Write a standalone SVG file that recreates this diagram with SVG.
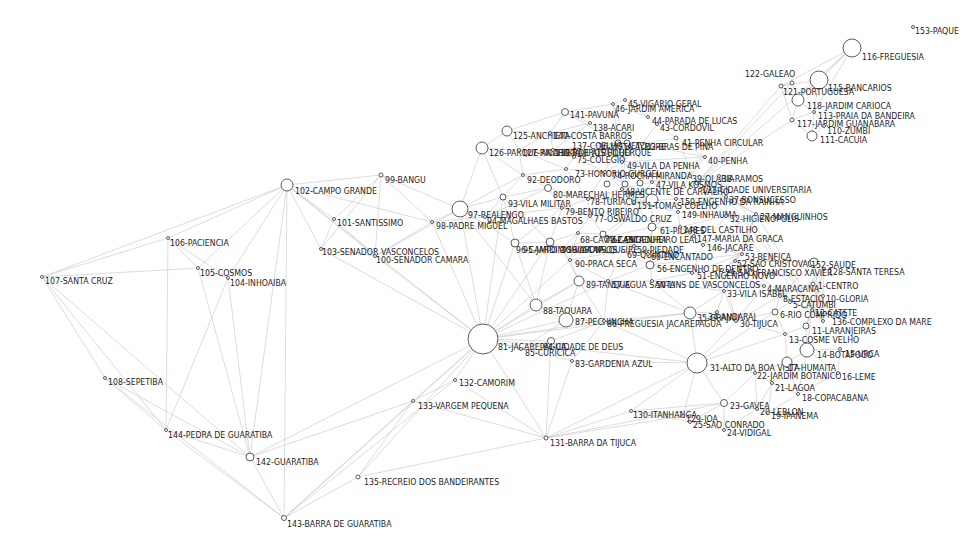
<svg xmlns="http://www.w3.org/2000/svg" width="963" height="544" viewBox="0 0 963 544">
<style>
.e line{stroke:#c4c4c4;stroke-width:0.6}
.n circle{fill:#fff;stroke:#333;stroke-width:0.8}
.n text{font-family:"DejaVu Sans","Liberation Sans",sans-serif;font-stretch:condensed;font-size:8.7px;fill:#1e1e1e}
</style>
<rect width="963" height="544" fill="#fff"/>
<g id="connectors" class="e">
<line x1="42" y1="277" x2="287" y2="185"/><line x1="42" y1="277" x2="168" y2="238"/><line x1="42" y1="277" x2="105" y2="378"/><line x1="42" y1="277" x2="166" y2="430"/><line x1="42" y1="277" x2="250" y2="457"/><line x1="42" y1="277" x2="198" y2="268"/>
<line x1="168" y1="238" x2="287" y2="185"/><line x1="168" y1="238" x2="198" y2="268"/><line x1="168" y1="238" x2="228" y2="278"/><line x1="168" y1="238" x2="166" y2="430"/>
<line x1="198" y1="268" x2="287" y2="185"/><line x1="198" y1="268" x2="228" y2="278"/><line x1="198" y1="268" x2="250" y2="457"/>
<line x1="228" y1="278" x2="287" y2="185"/><line x1="228" y1="278" x2="250" y2="457"/><line x1="228" y1="278" x2="166" y2="430"/>
<line x1="105" y1="378" x2="166" y2="430"/><line x1="105" y1="378" x2="250" y2="457"/><line x1="105" y1="378" x2="284" y2="518"/>
<line x1="166" y1="430" x2="250" y2="457"/><line x1="166" y1="430" x2="284" y2="518"/><line x1="250" y1="457" x2="284" y2="518"/><line x1="250" y1="457" x2="287" y2="185"/><line x1="250" y1="457" x2="483" y2="339"/><line x1="250" y1="457" x2="413" y2="401"/>
<line x1="287" y1="185" x2="284" y2="518"/><line x1="284" y1="518" x2="358" y2="477"/><line x1="284" y1="518" x2="413" y2="401"/><line x1="284" y1="518" x2="455" y2="380"/><line x1="284" y1="518" x2="483" y2="339"/>
<line x1="358" y1="477" x2="546" y2="438"/><line x1="358" y1="477" x2="483" y2="339"/><line x1="358" y1="477" x2="413" y2="401"/>
<line x1="413" y1="401" x2="483" y2="339"/><line x1="413" y1="401" x2="546" y2="438"/><line x1="413" y1="401" x2="455" y2="380"/>
<line x1="455" y1="380" x2="483" y2="339"/><line x1="455" y1="380" x2="546" y2="438"/>
<line x1="546" y1="438" x2="631" y2="411"/><line x1="546" y1="438" x2="697" y2="363"/><line x1="546" y1="438" x2="572" y2="361"/><line x1="546" y1="438" x2="483" y2="339"/><line x1="546" y1="438" x2="683" y2="416"/><line x1="546" y1="438" x2="724" y2="403"/><line x1="546" y1="438" x2="551" y2="341"/>
<line x1="287" y1="185" x2="381" y2="175"/><line x1="287" y1="185" x2="334" y2="219"/><line x1="287" y1="185" x2="321" y2="249"/><line x1="287" y1="185" x2="375" y2="256"/><line x1="287" y1="185" x2="483" y2="339"/><line x1="287" y1="185" x2="432" y2="222"/>
<line x1="381" y1="175" x2="334" y2="219"/><line x1="381" y1="175" x2="321" y2="249"/><line x1="381" y1="175" x2="460" y2="209"/><line x1="381" y1="175" x2="432" y2="222"/><line x1="381" y1="175" x2="375" y2="256"/>
<line x1="334" y1="219" x2="321" y2="249"/><line x1="334" y1="219" x2="375" y2="256"/><line x1="321" y1="249" x2="375" y2="256"/><line x1="321" y1="249" x2="483" y2="339"/>
<line x1="375" y1="256" x2="483" y2="339"/><line x1="375" y1="256" x2="432" y2="222"/><line x1="375" y1="256" x2="460" y2="209"/>
<line x1="432" y1="222" x2="460" y2="209"/><line x1="432" y1="222" x2="485" y2="217"/><line x1="432" y1="222" x2="483" y2="339"/>
<line x1="460" y1="209" x2="503" y2="197"/><line x1="460" y1="209" x2="482" y2="148"/><line x1="460" y1="209" x2="523" y2="175"/><line x1="460" y1="209" x2="485" y2="217"/><line x1="460" y1="209" x2="483" y2="339"/><line x1="460" y1="209" x2="515" y2="243"/><line x1="460" y1="209" x2="536" y2="305"/>
<line x1="482" y1="148" x2="507" y2="131"/><line x1="482" y1="148" x2="519" y2="150"/><line x1="482" y1="148" x2="523" y2="175"/><line x1="482" y1="148" x2="503" y2="197"/>
<line x1="507" y1="131" x2="565" y2="112"/><line x1="507" y1="131" x2="519" y2="150"/><line x1="507" y1="131" x2="550" y2="133"/>
<line x1="565" y1="112" x2="613" y2="104"/><line x1="565" y1="112" x2="550" y2="133"/><line x1="565" y1="112" x2="590" y2="123"/><line x1="565" y1="112" x2="618" y2="143"/>
<line x1="613" y1="104" x2="625" y2="100"/><line x1="613" y1="104" x2="648" y2="117"/><line x1="613" y1="104" x2="618" y2="143"/><line x1="613" y1="104" x2="627" y2="143"/>
<line x1="625" y1="100" x2="648" y2="117"/><line x1="648" y1="117" x2="657" y2="124"/><line x1="657" y1="124" x2="676" y2="138"/><line x1="657" y1="124" x2="642" y2="144"/>
<line x1="676" y1="138" x2="705" y2="157"/><line x1="676" y1="138" x2="642" y2="144"/><line x1="676" y1="138" x2="697" y2="183"/>
<line x1="550" y1="133" x2="590" y2="123"/><line x1="550" y1="133" x2="553" y2="150"/><line x1="550" y1="133" x2="519" y2="150"/>
<line x1="590" y1="123" x2="618" y2="143"/><line x1="590" y1="123" x2="553" y2="150"/>
<line x1="553" y1="150" x2="519" y2="150"/><line x1="553" y1="150" x2="574" y2="157"/><line x1="553" y1="150" x2="618" y2="143"/>
<line x1="618" y1="143" x2="627" y2="143"/><line x1="618" y1="143" x2="574" y2="157"/><line x1="618" y1="143" x2="605" y2="172"/>
<line x1="519" y1="150" x2="523" y2="175"/><line x1="519" y1="150" x2="566" y2="169"/><line x1="519" y1="150" x2="574" y2="157"/>
<line x1="523" y1="175" x2="503" y2="197"/><line x1="523" y1="175" x2="548" y2="188"/><line x1="523" y1="175" x2="566" y2="169"/>
<line x1="503" y1="197" x2="485" y2="217"/><line x1="503" y1="197" x2="548" y2="188"/><line x1="503" y1="197" x2="515" y2="243"/><line x1="503" y1="197" x2="550" y2="242"/>
<line x1="548" y1="188" x2="562" y2="208"/><line x1="548" y1="188" x2="566" y2="169"/><line x1="548" y1="188" x2="588" y2="199"/><line x1="548" y1="188" x2="485" y2="217"/>
<line x1="566" y1="169" x2="605" y2="172"/><line x1="566" y1="169" x2="574" y2="157"/><line x1="566" y1="169" x2="588" y2="199"/>
<line x1="605" y1="172" x2="574" y2="157"/><line x1="605" y1="172" x2="622" y2="162"/><line x1="605" y1="172" x2="622" y2="189"/><line x1="605" y1="172" x2="588" y2="199"/><line x1="605" y1="172" x2="652" y2="200"/>
<line x1="627" y1="143" x2="622" y2="162"/><line x1="627" y1="143" x2="642" y2="144"/><line x1="627" y1="143" x2="622" y2="189"/>
<line x1="642" y1="144" x2="705" y2="157"/><line x1="642" y1="144" x2="622" y2="162"/>
<line x1="705" y1="157" x2="690" y2="176"/><line x1="705" y1="157" x2="622" y2="162"/><line x1="705" y1="157" x2="652" y2="182"/>
<line x1="690" y1="176" x2="719" y2="176"/><line x1="690" y1="176" x2="697" y2="183"/><line x1="690" y1="176" x2="676" y2="199"/><line x1="690" y1="176" x2="652" y2="182"/>
<line x1="719" y1="176" x2="726" y2="197"/><line x1="719" y1="176" x2="697" y2="183"/><line x1="719" y1="176" x2="823" y2="321"/>
<line x1="726" y1="197" x2="756" y2="214"/><line x1="726" y1="197" x2="676" y2="199"/><line x1="726" y1="197" x2="726" y2="216"/><line x1="726" y1="197" x2="697" y2="183"/><line x1="726" y1="197" x2="823" y2="321"/>
<line x1="622" y1="162" x2="652" y2="182"/><line x1="622" y1="162" x2="622" y2="189"/>
<line x1="652" y1="182" x2="622" y2="189"/><line x1="652" y1="182" x2="634" y2="202"/><line x1="652" y1="182" x2="676" y2="199"/>
<line x1="622" y1="189" x2="652" y2="200"/><line x1="622" y1="189" x2="634" y2="202"/><line x1="622" y1="189" x2="588" y2="199"/>
<line x1="634" y1="202" x2="678" y2="212"/><line x1="634" y1="202" x2="676" y2="199"/><line x1="634" y1="202" x2="652" y2="227"/><line x1="634" y1="202" x2="652" y2="200"/>
<line x1="676" y1="199" x2="678" y2="212"/><line x1="676" y1="199" x2="726" y2="216"/>
<line x1="678" y1="212" x2="680" y2="227"/><line x1="678" y1="212" x2="726" y2="216"/><line x1="678" y1="212" x2="652" y2="227"/>
<line x1="680" y1="227" x2="694" y2="236"/><line x1="680" y1="227" x2="726" y2="216"/><line x1="680" y1="227" x2="703" y2="245"/><line x1="680" y1="227" x2="652" y2="227"/>
<line x1="694" y1="236" x2="703" y2="245"/><line x1="694" y1="236" x2="650" y2="265"/><line x1="694" y1="236" x2="652" y2="227"/>
<line x1="703" y1="245" x2="726" y2="216"/><line x1="703" y1="245" x2="742" y2="254"/><line x1="703" y1="245" x2="692" y2="273"/><line x1="703" y1="245" x2="756" y2="214"/>
<line x1="756" y1="214" x2="742" y2="254"/><line x1="756" y1="214" x2="823" y2="321"/><line x1="756" y1="214" x2="735" y2="261"/><line x1="756" y1="214" x2="697" y2="183"/>
<line x1="588" y1="199" x2="562" y2="208"/><line x1="588" y1="199" x2="590" y2="216"/><line x1="588" y1="199" x2="652" y2="200"/>
<line x1="562" y1="208" x2="590" y2="216"/><line x1="562" y1="208" x2="485" y2="217"/><line x1="562" y1="208" x2="550" y2="242"/><line x1="562" y1="208" x2="515" y2="243"/>
<line x1="590" y1="216" x2="652" y2="200"/><line x1="590" y1="216" x2="603" y2="234"/><line x1="590" y1="216" x2="578" y2="233"/>
<line x1="652" y1="200" x2="603" y2="234"/><line x1="652" y1="200" x2="652" y2="227"/><line x1="652" y1="200" x2="607" y2="237"/>
<line x1="603" y1="234" x2="578" y2="233"/><line x1="603" y1="234" x2="607" y2="237"/><line x1="603" y1="234" x2="634" y2="246"/><line x1="603" y1="234" x2="562" y2="249"/>
<line x1="578" y1="233" x2="562" y2="249"/><line x1="578" y1="233" x2="550" y2="242"/><line x1="578" y1="233" x2="570" y2="260"/>
<line x1="652" y1="227" x2="607" y2="237"/><line x1="652" y1="227" x2="650" y2="265"/><line x1="652" y1="227" x2="648" y2="254"/>
<line x1="607" y1="237" x2="634" y2="246"/><line x1="607" y1="237" x2="648" y2="254"/>
<line x1="634" y1="246" x2="648" y2="254"/><line x1="634" y1="246" x2="623" y2="251"/><line x1="634" y1="246" x2="650" y2="265"/>
<line x1="648" y1="254" x2="650" y2="265"/><line x1="648" y1="254" x2="623" y2="251"/>
<line x1="623" y1="251" x2="570" y2="260"/><line x1="623" y1="251" x2="650" y2="265"/><line x1="623" y1="251" x2="608" y2="281"/>
<line x1="650" y1="265" x2="692" y2="273"/><line x1="650" y1="265" x2="652" y2="281"/><line x1="650" y1="265" x2="608" y2="281"/><line x1="650" y1="265" x2="742" y2="254"/>
<line x1="692" y1="273" x2="652" y2="281"/><line x1="692" y1="273" x2="742" y2="254"/><line x1="692" y1="273" x2="722" y2="270"/><line x1="692" y1="273" x2="724" y2="291"/>
<line x1="742" y1="254" x2="735" y2="261"/><line x1="742" y1="254" x2="722" y2="270"/>
<line x1="735" y1="261" x2="722" y2="270"/><line x1="735" y1="261" x2="823" y2="321"/><line x1="735" y1="261" x2="814" y2="262"/><line x1="735" y1="261" x2="764" y2="286"/>
<line x1="722" y1="270" x2="764" y2="286"/><line x1="722" y1="270" x2="724" y2="291"/><line x1="722" y1="270" x2="736" y2="321"/>
<line x1="814" y1="262" x2="813" y2="284"/><line x1="814" y1="262" x2="824" y2="269"/><line x1="814" y1="262" x2="823" y2="321"/><line x1="814" y1="262" x2="780" y2="296"/>
<line x1="813" y1="284" x2="824" y2="269"/><line x1="813" y1="284" x2="823" y2="296"/><line x1="813" y1="284" x2="780" y2="296"/><line x1="813" y1="284" x2="790" y2="302"/><line x1="813" y1="284" x2="823" y2="321"/>
<line x1="824" y1="269" x2="823" y2="296"/><line x1="824" y1="269" x2="790" y2="302"/><line x1="824" y1="269" x2="812" y2="310"/><line x1="824" y1="269" x2="806" y2="326"/>
<line x1="780" y1="296" x2="790" y2="302"/><line x1="780" y1="296" x2="764" y2="286"/><line x1="780" y1="296" x2="775" y2="312"/>
<line x1="790" y1="302" x2="775" y2="312"/><line x1="790" y1="302" x2="812" y2="310"/>
<line x1="823" y1="296" x2="812" y2="310"/><line x1="823" y1="296" x2="806" y2="326"/>
<line x1="812" y1="310" x2="806" y2="326"/><line x1="812" y1="310" x2="807" y2="350"/>
<line x1="806" y1="326" x2="785" y2="334"/><line x1="806" y1="326" x2="807" y2="350"/>
<line x1="785" y1="334" x2="807" y2="350"/><line x1="785" y1="334" x2="775" y2="312"/><line x1="785" y1="334" x2="787" y2="362"/><line x1="785" y1="334" x2="697" y2="363"/>
<line x1="807" y1="350" x2="840" y2="349"/><line x1="807" y1="350" x2="787" y2="362"/><line x1="807" y1="350" x2="838" y2="373"/><line x1="807" y1="350" x2="798" y2="394"/>
<line x1="840" y1="349" x2="838" y2="373"/><line x1="838" y1="373" x2="798" y2="394"/>
<line x1="787" y1="362" x2="755" y2="373"/><line x1="787" y1="362" x2="772" y2="383"/><line x1="787" y1="362" x2="798" y2="394"/>
<line x1="755" y1="373" x2="772" y2="383"/><line x1="755" y1="373" x2="724" y2="403"/><line x1="755" y1="373" x2="697" y2="363"/><line x1="755" y1="373" x2="757" y2="409"/>
<line x1="772" y1="383" x2="798" y2="394"/><line x1="772" y1="383" x2="768" y2="413"/><line x1="772" y1="383" x2="757" y2="409"/>
<line x1="798" y1="394" x2="768" y2="413"/><line x1="768" y1="413" x2="757" y2="409"/>
<line x1="757" y1="409" x2="724" y2="403"/><line x1="757" y1="409" x2="724" y2="430"/>
<line x1="724" y1="403" x2="724" y2="430"/><line x1="724" y1="403" x2="690" y2="422"/><line x1="724" y1="403" x2="697" y2="363"/><line x1="724" y1="403" x2="631" y2="411"/>
<line x1="724" y1="430" x2="690" y2="422"/><line x1="690" y1="422" x2="683" y2="416"/><line x1="690" y1="422" x2="631" y2="411"/>
<line x1="683" y1="416" x2="631" y2="411"/><line x1="683" y1="416" x2="697" y2="363"/><line x1="631" y1="411" x2="697" y2="363"/>
<line x1="697" y1="363" x2="690" y2="313"/><line x1="697" y1="363" x2="736" y2="321"/><line x1="697" y1="363" x2="572" y2="361"/><line x1="697" y1="363" x2="483" y2="339"/><line x1="697" y1="363" x2="775" y2="312"/><line x1="697" y1="363" x2="604" y2="321"/>
<line x1="736" y1="321" x2="724" y2="291"/><line x1="736" y1="321" x2="775" y2="312"/><line x1="736" y1="321" x2="690" y2="313"/><line x1="736" y1="321" x2="717" y2="312"/><line x1="736" y1="321" x2="764" y2="286"/><line x1="736" y1="321" x2="780" y2="296"/><line x1="736" y1="321" x2="785" y2="334"/>
<line x1="717" y1="312" x2="690" y2="313"/><line x1="717" y1="312" x2="724" y2="291"/>
<line x1="724" y1="291" x2="764" y2="286"/><line x1="724" y1="291" x2="652" y2="281"/><line x1="724" y1="291" x2="690" y2="313"/>
<line x1="652" y1="281" x2="608" y2="281"/><line x1="652" y1="281" x2="690" y2="313"/>
<line x1="608" y1="281" x2="579" y2="281"/><line x1="608" y1="281" x2="570" y2="260"/><line x1="608" y1="281" x2="604" y2="321"/><line x1="608" y1="281" x2="690" y2="313"/>
<line x1="570" y1="260" x2="579" y2="281"/><line x1="570" y1="260" x2="562" y2="249"/>
<line x1="562" y1="249" x2="550" y2="242"/><line x1="562" y1="249" x2="579" y2="281"/>
<line x1="550" y1="242" x2="515" y2="243"/><line x1="550" y1="242" x2="536" y2="305"/>
<line x1="515" y1="243" x2="536" y2="305"/><line x1="515" y1="243" x2="483" y2="339"/>
<line x1="579" y1="281" x2="536" y2="305"/><line x1="579" y1="281" x2="566" y2="320"/><line x1="579" y1="281" x2="604" y2="321"/><line x1="579" y1="281" x2="483" y2="339"/>
<line x1="536" y1="305" x2="566" y2="320"/><line x1="536" y1="305" x2="483" y2="339"/>
<line x1="566" y1="320" x2="604" y2="321"/><line x1="566" y1="320" x2="483" y2="339"/><line x1="566" y1="320" x2="521" y2="349"/>
<line x1="604" y1="321" x2="483" y2="339"/><line x1="604" y1="321" x2="690" y2="313"/><line x1="604" y1="321" x2="572" y2="361"/><line x1="604" y1="321" x2="551" y2="341"/>
<line x1="521" y1="349" x2="483" y2="339"/><line x1="521" y1="349" x2="551" y2="341"/>
<line x1="551" y1="341" x2="483" y2="339"/><line x1="551" y1="341" x2="572" y2="361"/><line x1="572" y1="361" x2="483" y2="339"/>
<line x1="483" y1="339" x2="690" y2="313"/><line x1="483" y1="339" x2="608" y2="281"/><line x1="483" y1="339" x2="570" y2="260"/><line x1="483" y1="339" x2="503" y2="197"/><line x1="483" y1="339" x2="550" y2="242"/>
<line x1="852" y1="48" x2="819" y2="80"/><line x1="852" y1="48" x2="798" y2="100"/><line x1="852" y1="48" x2="814" y2="112"/><line x1="852" y1="48" x2="697" y2="183"/><line x1="852" y1="48" x2="781" y2="86"/>
<line x1="819" y1="80" x2="781" y2="86"/><line x1="819" y1="80" x2="798" y2="100"/><line x1="819" y1="80" x2="814" y2="112"/>
<line x1="781" y1="86" x2="792" y2="83"/><line x1="781" y1="86" x2="798" y2="100"/><line x1="781" y1="86" x2="792" y2="120"/><line x1="781" y1="86" x2="697" y2="183"/>
<line x1="792" y1="83" x2="798" y2="100"/><line x1="792" y1="83" x2="697" y2="183"/>
<line x1="798" y1="100" x2="792" y2="120"/><line x1="798" y1="100" x2="814" y2="112"/>
<line x1="792" y1="120" x2="814" y2="112"/><line x1="792" y1="120" x2="812" y2="136"/><line x1="792" y1="120" x2="697" y2="183"/>
<line x1="814" y1="112" x2="824" y2="126"/><line x1="824" y1="126" x2="812" y2="136"/><line x1="812" y1="136" x2="814" y2="112"/>
<line x1="697" y1="183" x2="823" y2="321"/>
</g>
<g id="nodes" class="n">
<g id="n153"><circle cx="913" cy="27" r="1.5"/><text x="915" y="34">153-PAQUE</text></g>
<g id="n116"><circle cx="852" cy="48" r="9"/><text x="862" y="60">116-FREGUESIA</text></g>
<g id="n115"><circle cx="819" cy="80" r="9"/><text x="828" y="91">115-BANCARIOS</text></g>
<g id="n122"><circle cx="792" cy="83" r="2"/><text x="745" y="77">122-GALEAO</text></g>
<g id="n121"><circle cx="781" cy="86" r="2"/><text x="783" y="95">121-PORTUGUESA</text></g>
<g id="n118"><circle cx="798" cy="100" r="6"/><text x="807" y="109">118-JARDIM CARIOCA</text></g>
<g id="n113"><circle cx="814" cy="112" r="1.5"/><text x="818" y="119">113-PRAIA DA BANDEIRA</text></g>
<g id="n117"><circle cx="792" cy="120" r="2"/><text x="797" y="127">117-JARDIM GUANABARA</text></g>
<g id="n110"><circle cx="824" cy="126" r="1.5"/><text x="827" y="134">110-ZUMBI</text></g>
<g id="n111"><circle cx="812" cy="136" r="5"/><text x="820" y="143">111-CACUIA</text></g>
<g id="n123"><circle cx="697" cy="183" r="2"/><text x="702" y="193">123-CIDADE UNIVERSITARIA</text></g>
<g id="n141"><circle cx="565" cy="112" r="3.5"/><text x="570" y="118">141-PAVUNA</text></g>
<g id="n45"><circle cx="625" cy="100" r="1.5"/><text x="628" y="107">45-VIGARIO GERAL</text></g>
<g id="n46"><circle cx="613" cy="104" r="1.5"/><text x="615" y="112">46-JARDIM AMERICA</text></g>
<g id="n44"><circle cx="648" cy="117" r="1.5"/><text x="652" y="124">44-PARADA DE LUCAS</text></g>
<g id="n43"><circle cx="657" cy="124" r="1.5"/><text x="660" y="131">43-CORDOVIL</text></g>
<g id="n41"><circle cx="676" cy="138" r="2"/><text x="682" y="146">41-PENHA CIRCULAR</text></g>
<g id="n125"><circle cx="507" cy="131" r="5"/><text x="513" y="139">125-ANCHIETA</text></g>
<g id="n140"><circle cx="550" cy="133" r="1.5"/><text x="553" y="139">140-COSTA BARROS</text></g>
<g id="n138"><circle cx="590" cy="123" r="1.5"/><text x="593" y="131">138-ACARI</text></g>
<g id="n137"><circle cx="618" cy="143" r="3"/><text x="572" y="149">137-COELHO NETO</text></g>
<g id="n36"><circle cx="627" cy="143" r="3"/><text x="598" y="150">36-VISTA ALEGRE</text></g>
<g id="n42"><circle cx="642" cy="144" r="1.5"/><text x="646" y="150">42-BRAS DE PINA</text></g>
<g id="n126"><circle cx="482" cy="148" r="6"/><text x="489" y="156">126-PARQUE ANCHIETA</text></g>
<g id="n127"><circle cx="519" cy="150" r="1.5"/><text x="522" y="156">127-RICARDO DE ALBUQUERQUE</text></g>
<g id="n139"><circle cx="553" cy="150" r="1.5"/><text x="555" y="156">139-BARROS FILHO</text></g>
<g id="n75"><circle cx="574" cy="157" r="1.5"/><text x="577" y="163">75-COLEGIO</text></g>
<g id="n40"><circle cx="705" cy="157" r="1.5"/><text x="708" y="164">40-PENHA</text></g>
<g id="n49"><circle cx="622" cy="162" r="1.5"/><text x="627" y="169">49-VILA DA PENHA</text></g>
<g id="n73"><circle cx="566" cy="169" r="1.5"/><text x="575" y="177">73-HONORIO GURGEL</text></g>
<g id="n74"><circle cx="605" cy="172" r="1.5"/><text x="612" y="179">74-ROCHA MIRANDA</text></g>
<g id="n92"><circle cx="523" cy="175" r="1.5"/><text x="527" y="183">92-DEODORO</text></g>
<g id="n39"><circle cx="690" cy="176" r="1.5"/><text x="692" y="182">39-OLARIA</text></g>
<g id="n38"><circle cx="719" cy="176" r="1.5"/><text x="722" y="182">38-RAMOS</text></g>
<g id="n47"><circle cx="652" cy="182" r="1.5"/><text x="656" y="188">47-VILA KOSMOS</text></g>
<g id="u1"><circle cx="607" cy="184" r="3"/></g>
<g id="u2"><circle cx="625" cy="184" r="3"/></g>
<g id="u3"><circle cx="640" cy="183" r="3"/></g>
<g id="n48"><circle cx="622" cy="189" r="1.5"/><text x="625" y="195">48-VICENTE DE CARVALHO</text></g>
<g id="n80"><circle cx="548" cy="188" r="3.5"/><text x="553" y="198">80-MARECHAL HERMES</text></g>
<g id="n93"><circle cx="503" cy="197" r="3"/><text x="508" y="207">93-VILA MILITAR</text></g>
<g id="n78"><circle cx="588" cy="199" r="1.5"/><text x="590" y="205">78-TURIACU</text></g>
<g id="u4"><circle cx="652" cy="200" r="6"/></g>
<g id="n150"><circle cx="676" cy="199" r="1.5"/><text x="680" y="205">150-ENGENHO DA RAINHA</text></g>
<g id="n37"><circle cx="726" cy="197" r="1.5"/><text x="729" y="203">37-BONSUCESSO</text></g>
<g id="n151"><circle cx="634" cy="202" r="1.5"/><text x="637" y="209">151-TOMAS COELHO</text></g>
<g id="n97"><circle cx="460" cy="209" r="8"/><text x="468" y="218">97-REALENGO</text></g>
<g id="n79"><circle cx="562" cy="208" r="1.5"/><text x="565" y="215">79-BENTO RIBEIRO</text></g>
<g id="n149"><circle cx="678" cy="212" r="1.5"/><text x="682" y="218">149-INHAUMA</text></g>
<g id="n32"><circle cx="726" cy="216" r="1.5"/><text x="730" y="222">32-HIGIENOPOLIS</text></g>
<g id="n27"><circle cx="756" cy="214" r="1.5"/><text x="760" y="220">27-MANGUINHOS</text></g>
<g id="n77"><circle cx="590" cy="216" r="1.5"/><text x="594" y="222">77-OSWALDO CRUZ</text></g>
<g id="n94"><circle cx="485" cy="217" r="1.5"/><text x="487" y="224">94-MAGALHAES BASTOS</text></g>
<g id="n98"><circle cx="432" cy="222" r="1.5"/><text x="436" y="229">98-PADRE MIGUEL</text></g>
<g id="n61"><circle cx="652" cy="227" r="4"/><text x="660" y="234">61-PILARES</text></g>
<g id="n148"><circle cx="680" cy="227" r="1.5"/><text x="683" y="233">148-DEL CASTILHO</text></g>
<g id="n68"><circle cx="578" cy="233" r="1.5"/><text x="580" y="243">68-CAVALCANTI</text></g>
<g id="n62"><circle cx="607" cy="237" r="1.5"/><text x="612" y="243">62-ENGENHEIRO LEAL</text></g>
<g id="n72"><circle cx="603" cy="234" r="3"/><text x="605" y="243">72-CASCADURA</text></g>
<g id="n147"><circle cx="694" cy="236" r="1.5"/><text x="697" y="242">147-MARIA DA GRACA</text></g>
<g id="n96"><circle cx="515" cy="243" r="4"/><text x="516" y="253">96-CAMPO DOS AFONSOS</text></g>
<g id="n95"><circle cx="550" cy="242" r="4"/><text x="523" y="253">95-JARDIM SULACAP</text></g>
<g id="n91"><circle cx="562" cy="249" r="1.5"/><text x="562" y="253">91-VILA VALQUEIRE</text></g>
<g id="n146"><circle cx="703" cy="245" r="1.5"/><text x="707" y="251">146-JACARE</text></g>
<g id="n59"><circle cx="634" cy="246" r="1.5"/><text x="637" y="253">59-PIEDADE</text></g>
<g id="n69"><circle cx="623" cy="251" r="1.5"/><text x="627" y="258">69-QUINTINO</text></g>
<g id="n60"><circle cx="648" cy="254" r="1.5"/><text x="651" y="260">60-ENCANTADO</text></g>
<g id="n53"><circle cx="742" cy="254" r="1.5"/><text x="745" y="260">53-BENFICA</text></g>
<g id="n90"><circle cx="570" cy="260" r="1.5"/><text x="575" y="267">90-PRACA SECA</text></g>
<g id="n52"><circle cx="735" cy="261" r="1.5"/><text x="737" y="267">52-SAO CRISTOVAO</text></g>
<g id="n152"><circle cx="814" cy="262" r="4"/><text x="811" y="268">152-SAUDE</text></g>
<g id="n56"><circle cx="650" cy="265" r="4"/><text x="657" y="272">56-ENGENHO DE DENTRO</text></g>
<g id="n128"><circle cx="824" cy="269" r="1.5"/><text x="828" y="275">128-SANTA TERESA</text></g>
<g id="n29"><circle cx="722" cy="270" r="1.5"/><text x="725" y="276">29-SAO FRANCISCO XAVIER</text></g>
<g id="n51"><circle cx="692" cy="273" r="1.5"/><text x="697" y="279">51-ENGENHO NOVO</text></g>
<g id="n89"><circle cx="579" cy="281" r="5"/><text x="586" y="288">89-TANQUE</text></g>
<g id="n57"><circle cx="608" cy="281" r="1.5"/><text x="612" y="288">57-AGUA SANTA</text></g>
<g id="n50"><circle cx="652" cy="281" r="1.5"/><text x="656" y="288">50-LINS DE VASCONCELOS</text></g>
<g id="n1"><circle cx="813" cy="284" r="2"/><text x="818" y="289">1-CENTRO</text></g>
<g id="n4"><circle cx="764" cy="286" r="1.5"/><text x="767" y="292">4-MARACANA</text></g>
<g id="n33"><circle cx="724" cy="291" r="1.5"/><text x="727" y="297">33-VILA ISABEL</text></g>
<g id="n8"><circle cx="780" cy="296" r="1.5"/><text x="783" y="302">8-ESTACIO</text></g>
<g id="n10"><circle cx="823" cy="296" r="1.5"/><text x="826" y="302">10-GLORIA</text></g>
<g id="n5"><circle cx="790" cy="302" r="1.5"/><text x="793" y="308">5-CATUMBI</text></g>
<g id="n88"><circle cx="536" cy="305" r="6"/><text x="543" y="314">88-TAQUARA</text></g>
<g id="n6"><circle cx="775" cy="312" r="3"/><text x="780" y="318">6-RIO COMPRIDO</text></g>
<g id="n12"><circle cx="812" cy="310" r="1.5"/><text x="815" y="316">12-CATETE</text></g>
<g id="n35"><circle cx="690" cy="313" r="6"/><text x="697" y="321">35-GRAJAU</text></g>
<g id="n34"><circle cx="717" cy="312" r="1.5"/><text x="708" y="320">34-ANDARAI</text></g>
<g id="n87"><circle cx="566" cy="320" r="7"/><text x="575" y="325">87-PECHINCHA</text></g>
<g id="n86"><circle cx="604" cy="321" r="1.5"/><text x="607" y="327">86-FREGUESIA JACAREPAGUA</text></g>
<g id="n30"><circle cx="736" cy="321" r="1.5"/><text x="740" y="327">30-TIJUCA</text></g>
<g id="n136"><circle cx="823" cy="321" r="1.5"/><text x="832" y="325">136-COMPLEXO DA MARE</text></g>
<g id="n11"><circle cx="806" cy="326" r="3"/><text x="812" y="334">11-LARANJEIRAS</text></g>
<g id="n13"><circle cx="785" cy="334" r="1.5"/><text x="789" y="343">13-COSME VELHO</text></g>
<g id="n81"><circle cx="483" cy="339" r="15"/><text x="498" y="350">81-JACAREPAGUA</text></g>
<g id="n84"><circle cx="551" cy="341" r="3.5"/><text x="543" y="350">84-CIDADE DE DEUS</text></g>
<g id="n85"><circle cx="521" cy="349" r="1.5"/><text x="525" y="356">85-CURICICA</text></g>
<g id="n14"><circle cx="807" cy="350" r="7"/><text x="817" y="358">14-BOTAFOGO</text></g>
<g id="n15"><circle cx="840" cy="349" r="1.5"/><text x="845" y="357">15-URCA</text></g>
<g id="n83"><circle cx="572" cy="361" r="1.5"/><text x="575" y="367">83-GARDENIA AZUL</text></g>
<g id="n31"><circle cx="697" cy="363" r="10"/><text x="710" y="371">31-ALTO DA BOA VISTA</text></g>
<g id="n17"><circle cx="787" cy="362" r="5"/><text x="788" y="371">17-HUMAITA</text></g>
<g id="n22"><circle cx="755" cy="373" r="1.5"/><text x="757" y="379">22-JARDIM BOTANICO</text></g>
<g id="n16"><circle cx="838" cy="373" r="1.5"/><text x="842" y="380">16-LEME</text></g>
<g id="n132"><circle cx="455" cy="380" r="1.5"/><text x="459" y="386">132-CAMORIM</text></g>
<g id="n21"><circle cx="772" cy="383" r="1.5"/><text x="775" y="391">21-LAGOA</text></g>
<g id="n18"><circle cx="798" cy="394" r="1.5"/><text x="802" y="401">18-COPACABANA</text></g>
<g id="n133"><circle cx="413" cy="401" r="1.5"/><text x="418" y="409">133-VARGEM PEQUENA</text></g>
<g id="n23"><circle cx="724" cy="403" r="3.5"/><text x="730" y="409">23-GAVEA</text></g>
<g id="n20"><circle cx="757" cy="409" r="1.5"/><text x="760" y="415">20-LEBLON</text></g>
<g id="n19"><circle cx="768" cy="413" r="1.5"/><text x="771" y="419">19-IPANEMA</text></g>
<g id="n130"><circle cx="631" cy="411" r="1.5"/><text x="633" y="418">130-ITANHANGA</text></g>
<g id="n129"><circle cx="683" cy="416" r="1.5"/><text x="686" y="422">129-JOA</text></g>
<g id="n25"><circle cx="690" cy="422" r="1.5"/><text x="693" y="428">25-SAO CONRADO</text></g>
<g id="n24"><circle cx="724" cy="430" r="1.5"/><text x="727" y="436">24-VIDIGAL</text></g>
<g id="n131"><circle cx="546" cy="438" r="2"/><text x="550" y="446">131-BARRA DA TIJUCA</text></g>
<g id="n135"><circle cx="358" cy="477" r="2"/><text x="364" y="485">135-RECREIO DOS BANDEIRANTES</text></g>
<g id="n143"><circle cx="284" cy="518" r="2.5"/><text x="287" y="527">143-BARRA DE GUARATIBA</text></g>
<g id="n142"><circle cx="250" cy="457" r="4"/><text x="256" y="465">142-GUARATIBA</text></g>
<g id="n144"><circle cx="166" cy="430" r="1.5"/><text x="168" y="438">144-PEDRA DE GUARATIBA</text></g>
<g id="n108"><circle cx="105" cy="378" r="1.5"/><text x="108" y="385">108-SEPETIBA</text></g>
<g id="n107"><circle cx="42" cy="277" r="1.5"/><text x="45" y="284">107-SANTA CRUZ</text></g>
<g id="n106"><circle cx="168" cy="238" r="1.5"/><text x="170" y="246">106-PACIENCIA</text></g>
<g id="n105"><circle cx="198" cy="268" r="1.5"/><text x="200" y="276">105-COSMOS</text></g>
<g id="n104"><circle cx="228" cy="278" r="1.5"/><text x="230" y="286">104-INHOAIBA</text></g>
<g id="n102"><circle cx="287" cy="185" r="6"/><text x="295" y="194">102-CAMPO GRANDE</text></g>
<g id="n99"><circle cx="381" cy="175" r="2"/><text x="385" y="183">99-BANGU</text></g>
<g id="n101"><circle cx="334" cy="219" r="1.5"/><text x="337" y="226">101-SANTISSIMO</text></g>
<g id="n103"><circle cx="321" cy="249" r="1.5"/><text x="322" y="255">103-SENADOR VASCONCELOS</text></g>
<g id="n100"><circle cx="375" cy="256" r="1.5"/><text x="376" y="263">100-SENADOR CAMARA</text></g>
</g>
</svg>
